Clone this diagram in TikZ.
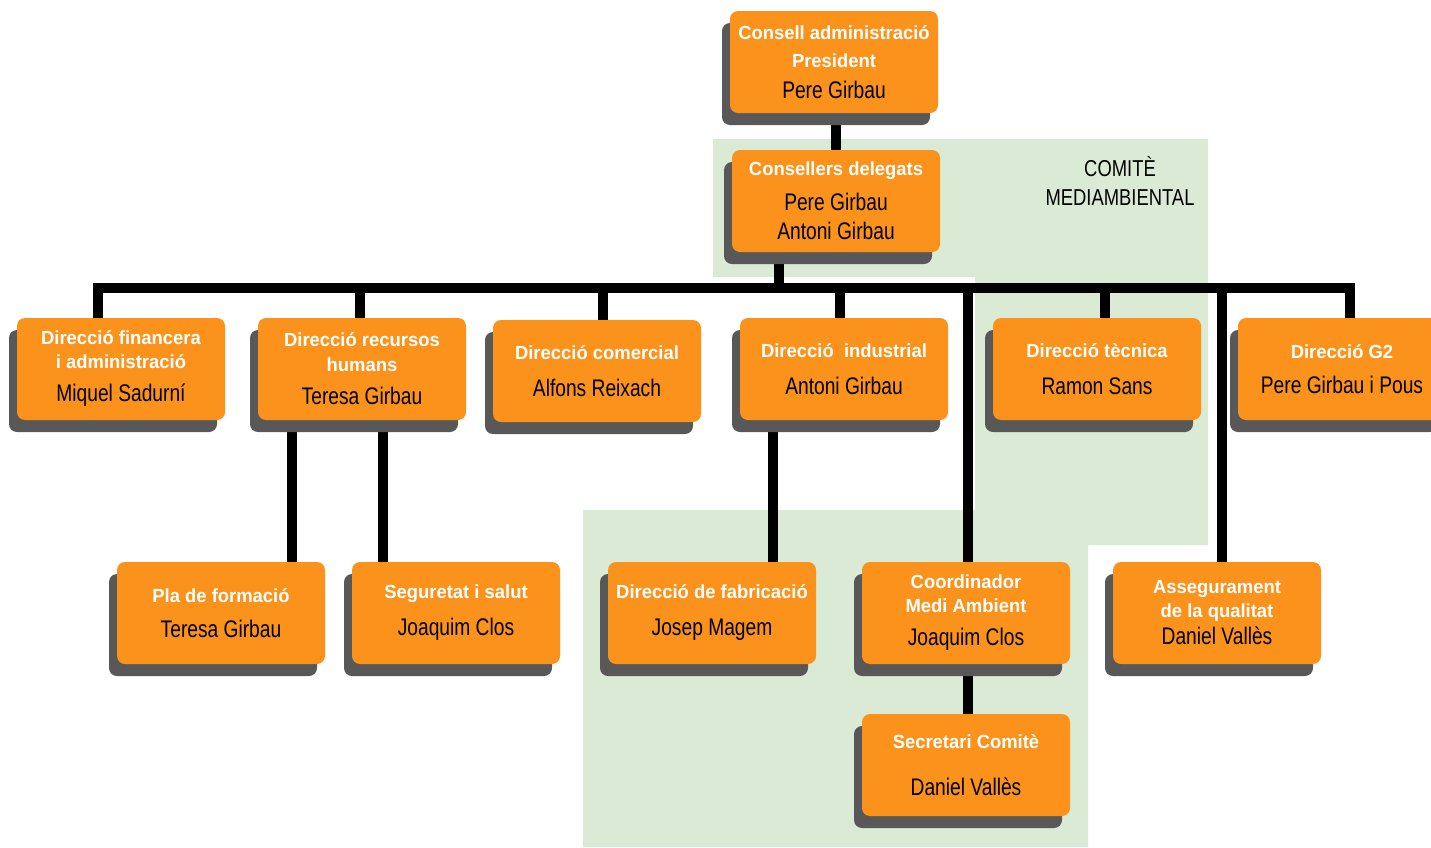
\documentclass[tikz,border=0pt]{standalone}
\usepackage{fontspec}
\setmainfont{Liberation Sans}[FakeStretch=0.8]
\newfontfamily\ttlfont{Liberation Sans}[FakeStretch=0.97]
\usetikzlibrary{shadows}
\definecolor{boxorange}{RGB}{250,146,28}
\definecolor{shade}{RGB}{88,88,88}
\definecolor{zonegreen}{RGB}{218,234,212}
\newcommand{\ttl}[1]{{\ttlfont\bfseries\fontsize{19}{23}\selectfont\color{white}#1}}
\pgfdeclarelayer{zone}
\pgfdeclarelayer{wires}
\pgfsetlayers{zone,wires,main}
\tikzset{
  post/.style={fill=boxorange, rounded corners=8pt, minimum width=208pt, minimum height=102pt,
    align=center, inner sep=0pt, font=\fontsize{24}{29}\selectfont,
    drop shadow={shadow xshift=-8pt, shadow yshift=-12pt, opacity=1, fill=shade}},
  wire/.style={line width=10pt}
}

\begin{document}
\begin{tikzpicture}[x=1pt,y=-1pt]
    \path[use as bounding box] (0,0) rectangle (1431,847);
    \begin{pgfonlayer}{zone}
    \fill[zonegreen] (713,139) -- (1208,139) -- (1208,545) -- (1088,545) -- (1088,847)
      -- (583,847) -- (583,510) -- (975,510) -- (975,277) -- (713,277) -- cycle;
    \end{pgfonlayer}
    \node[font=\fontsize{23}{29}\selectfont, align=center] (comite) at (1120,181) {COMITÈ\\MEDIAMBIENTAL};
    \node[post] (cons) at (834,62) {\ttl{Consell administració}\\[-1pt]\ttl{President}\\[2pt]Pere Girbau};
    \node[post] (deleg) at (836,201) {\ttl{Consellers delegats}\\[6pt]Pere Girbau\\Antoni Girbau};
    \node[post] (fin) at (121,369) {\ttl{Direcció financera}\\[-5pt]\ttl{i administració}\\[4pt]Miquel Sadurní};
    \node[post] (rh) at (362,369) {\ttl{Direcció recursos}\\[-4pt]\ttl{humans}\\[4pt]Teresa Girbau};
    \node[post] (com) at (597,371) {\ttl{Direcció comercial}\\[8pt]Alfons Reixach};
    \node[post] (ind) at (844,369) {\ttl{Direcció\ \ industrial}\\[8pt]Antoni Girbau};
    \node[post] (tec) at (1097,369) {\ttl{Direcció tècnica}\\[8pt]Ramon Sans};
    \node[post] (g2) at (1342,369) {\ttl{Direcció G2}\\[6pt]Pere Girbau i Pous};
    \node[post] (pla) at (221,613) {\ttl{Pla de formació}\\[6pt]Teresa Girbau};
    \node[post] (seg) at (456,613) {\ttl{Seguretat i salut}\\[8pt]Joaquim Clos};
    \node[post] (fab) at (712,613) {\ttl{Direcció de fabricació}\\[8pt]Josep Magem};
    \node[post] (coord) at (966,613) {\ttl{Coordinador}\\[-5pt]\ttl{Medi Ambient}\\[4pt]Joaquim Clos};
    \node[post] (ass) at (1217,613) {\ttl{Assegurament}\\[-5pt]\ttl{de la qualitat}\\[-2pt]Daniel Vallès};
    \node[post] (sec) at (966,765) {\ttl{Secretari Comitè}\\[18pt]Daniel Vallès};
    \begin{pgfonlayer}{wires}
    \coordinate (bus) at (779,288);
    \draw[wire] ([xshift=2]cons.south) -- ([xshift=2]cons.south |- deleg.north);
    \draw[wire] ([xshift=-57]deleg.south) -- ([xshift=-57]deleg.south |- bus);
    \draw[wire] ([xshift=-23]fin.north) |- (bus) -| ([xshift=8]g2.north);
    \foreach \n/\dx in {rh/-2, com/6, ind/-4, tec/8, coord/2, ass/5}
    \draw[wire] ([xshift=\dx]\n.north) -- ([xshift=\dx]\n.north |- bus);
    \draw[wire] ([xshift=-70]rh.south) -- ([xshift=-70]rh.south |- pla.north);
    \draw[wire] ([xshift=21]rh.south) -- ([xshift=21]rh.south |- seg.north);
    \draw[wire] ([xshift=-71]ind.south) -- ([xshift=-71]ind.south |- fab.north);
    \draw[wire] ([xshift=2]coord.south) -- ([xshift=2]coord.south |- sec.north);
    \end{pgfonlayer}
\end{tikzpicture}
\end{document}
